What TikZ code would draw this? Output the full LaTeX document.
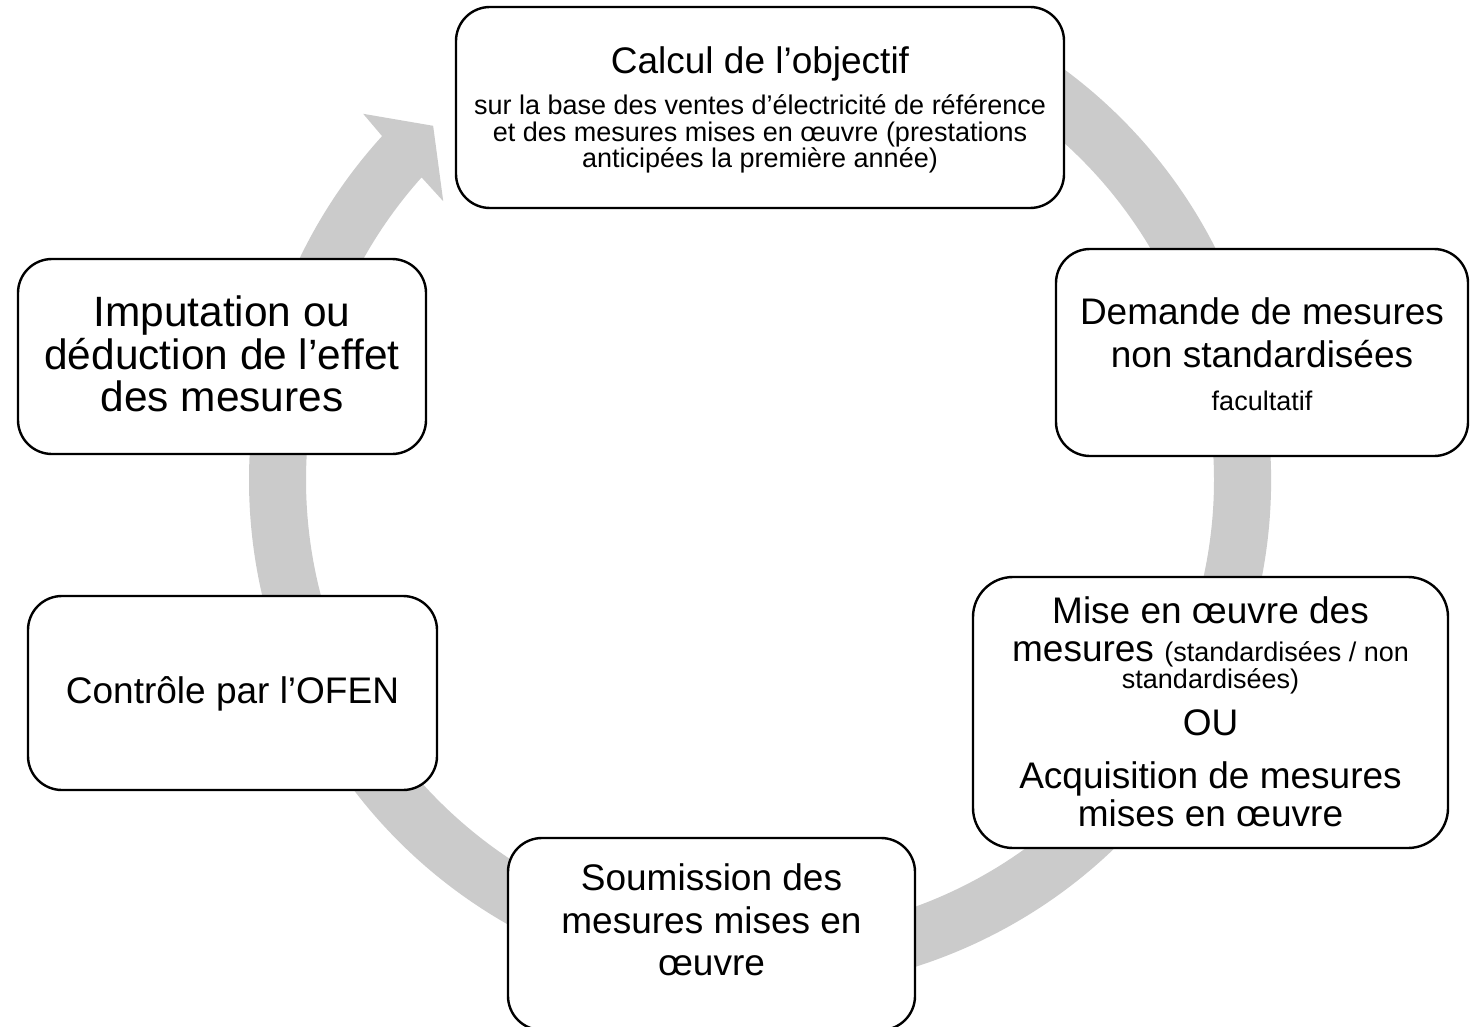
\documentclass[tikz,border=0pt]{standalone}
\usepackage{fontspec}
\setmainfont{Liberation Sans}
\definecolor{ringgray}{RGB}{203,203,203}
\newcommand\bigtxt{\fontsize{18.5}{21.3}\selectfont}
\newcommand\smtxt{\fontsize{13.5}{14}\selectfont}
\newcommand\fsz[2]{\fontsize{#1}{#2}\selectfont\lineskiplimit=-30pt\lineskip=0pt}
\begin{document}
\begin{tikzpicture}[x=0.5pt,y=-0.5pt,
  box/.style={draw=black, line width=1.2pt, fill=white, rounded corners=17pt, inner sep=0pt},
  txt/.style={align=center, inner sep=0pt, font=\fsz{18.5}{21.3}},
]
\useasboundingbox (0,0) rectangle (1471,1027);
% ring arrow
\fill[ringgray]
  ([shift={(760,480)}]-62:511) arc[start angle=-62, end angle=222.3, radius=511]
  -- ([shift={(760,480)}]222.7:540)
  -- ([shift={(760,480)}]227.3:482)
  -- ([shift={(760,480)}]221.35:422)
  -- ([shift={(760,480)}]221.8:454)
  arc[start angle=221.8, end angle=-62, radius=454] -- cycle;
% boxes
\node[box, minimum width=304pt, minimum height=100.5pt] (b1) at (760,107.5) {};
\node[box, minimum width=206pt, minimum height=103.5pt] (b2) at (1262,352.5) {};
\node[box, minimum width=237.5pt, minimum height=135.5pt, rounded corners=20pt] (b3) at (1210.5,712.5) {};
\node[box, minimum width=203.5pt, minimum height=96pt] (b4) at (711.5,934) {};
\node[box, minimum width=204.5pt, minimum height=97pt] (b5) at (232.5,693) {};
\node[box, minimum width=204pt, minimum height=97.5pt] (b6) at (222,356.5) {};
% texts
\node[txt, font=\fsz{18.5}{20}] (t1) at (760,110) {Calcul de l’objectif\\[0.5pt]
  \smtxt sur la base des ventes d’électricité de référence\\[-6.8pt]
  \smtxt et des mesures mises en œuvre (prestations\\[-6.8pt]
  \smtxt anticipées la première année)};
\node[txt, font=\fsz{18.5}{21.5}] (t2) at (1262,354) {Demande de mesures\\
  non standardisées\\[0pt]
  \smtxt facultatif};
\node[txt, font=\fsz{18.5}{19}] (t3) at (1210.5,712) {Mise en œuvre des\\
  mesures {\smtxt (standardisées / non}\\[-5.3pt]
  \smtxt standardisées)\\[4.5pt]
  \bigtxt OU\\[7.5pt]
  \bigtxt Acquisition de mesures\\
  \bigtxt mises en œuvre};
\node[txt] (t4) at (711.5,920) {Soumission des\\ mesures mises en\\ œuvre};
\node[txt] (t5) at (232.5,694) {Contrôle par l’OFEN};
\node[txt, font=\fsz{21.2}{21.3}] (t6) at (222,354) {Imputation ou\\ déduction de l’effet\\ des mesures};
\end{tikzpicture}
\end{document}
